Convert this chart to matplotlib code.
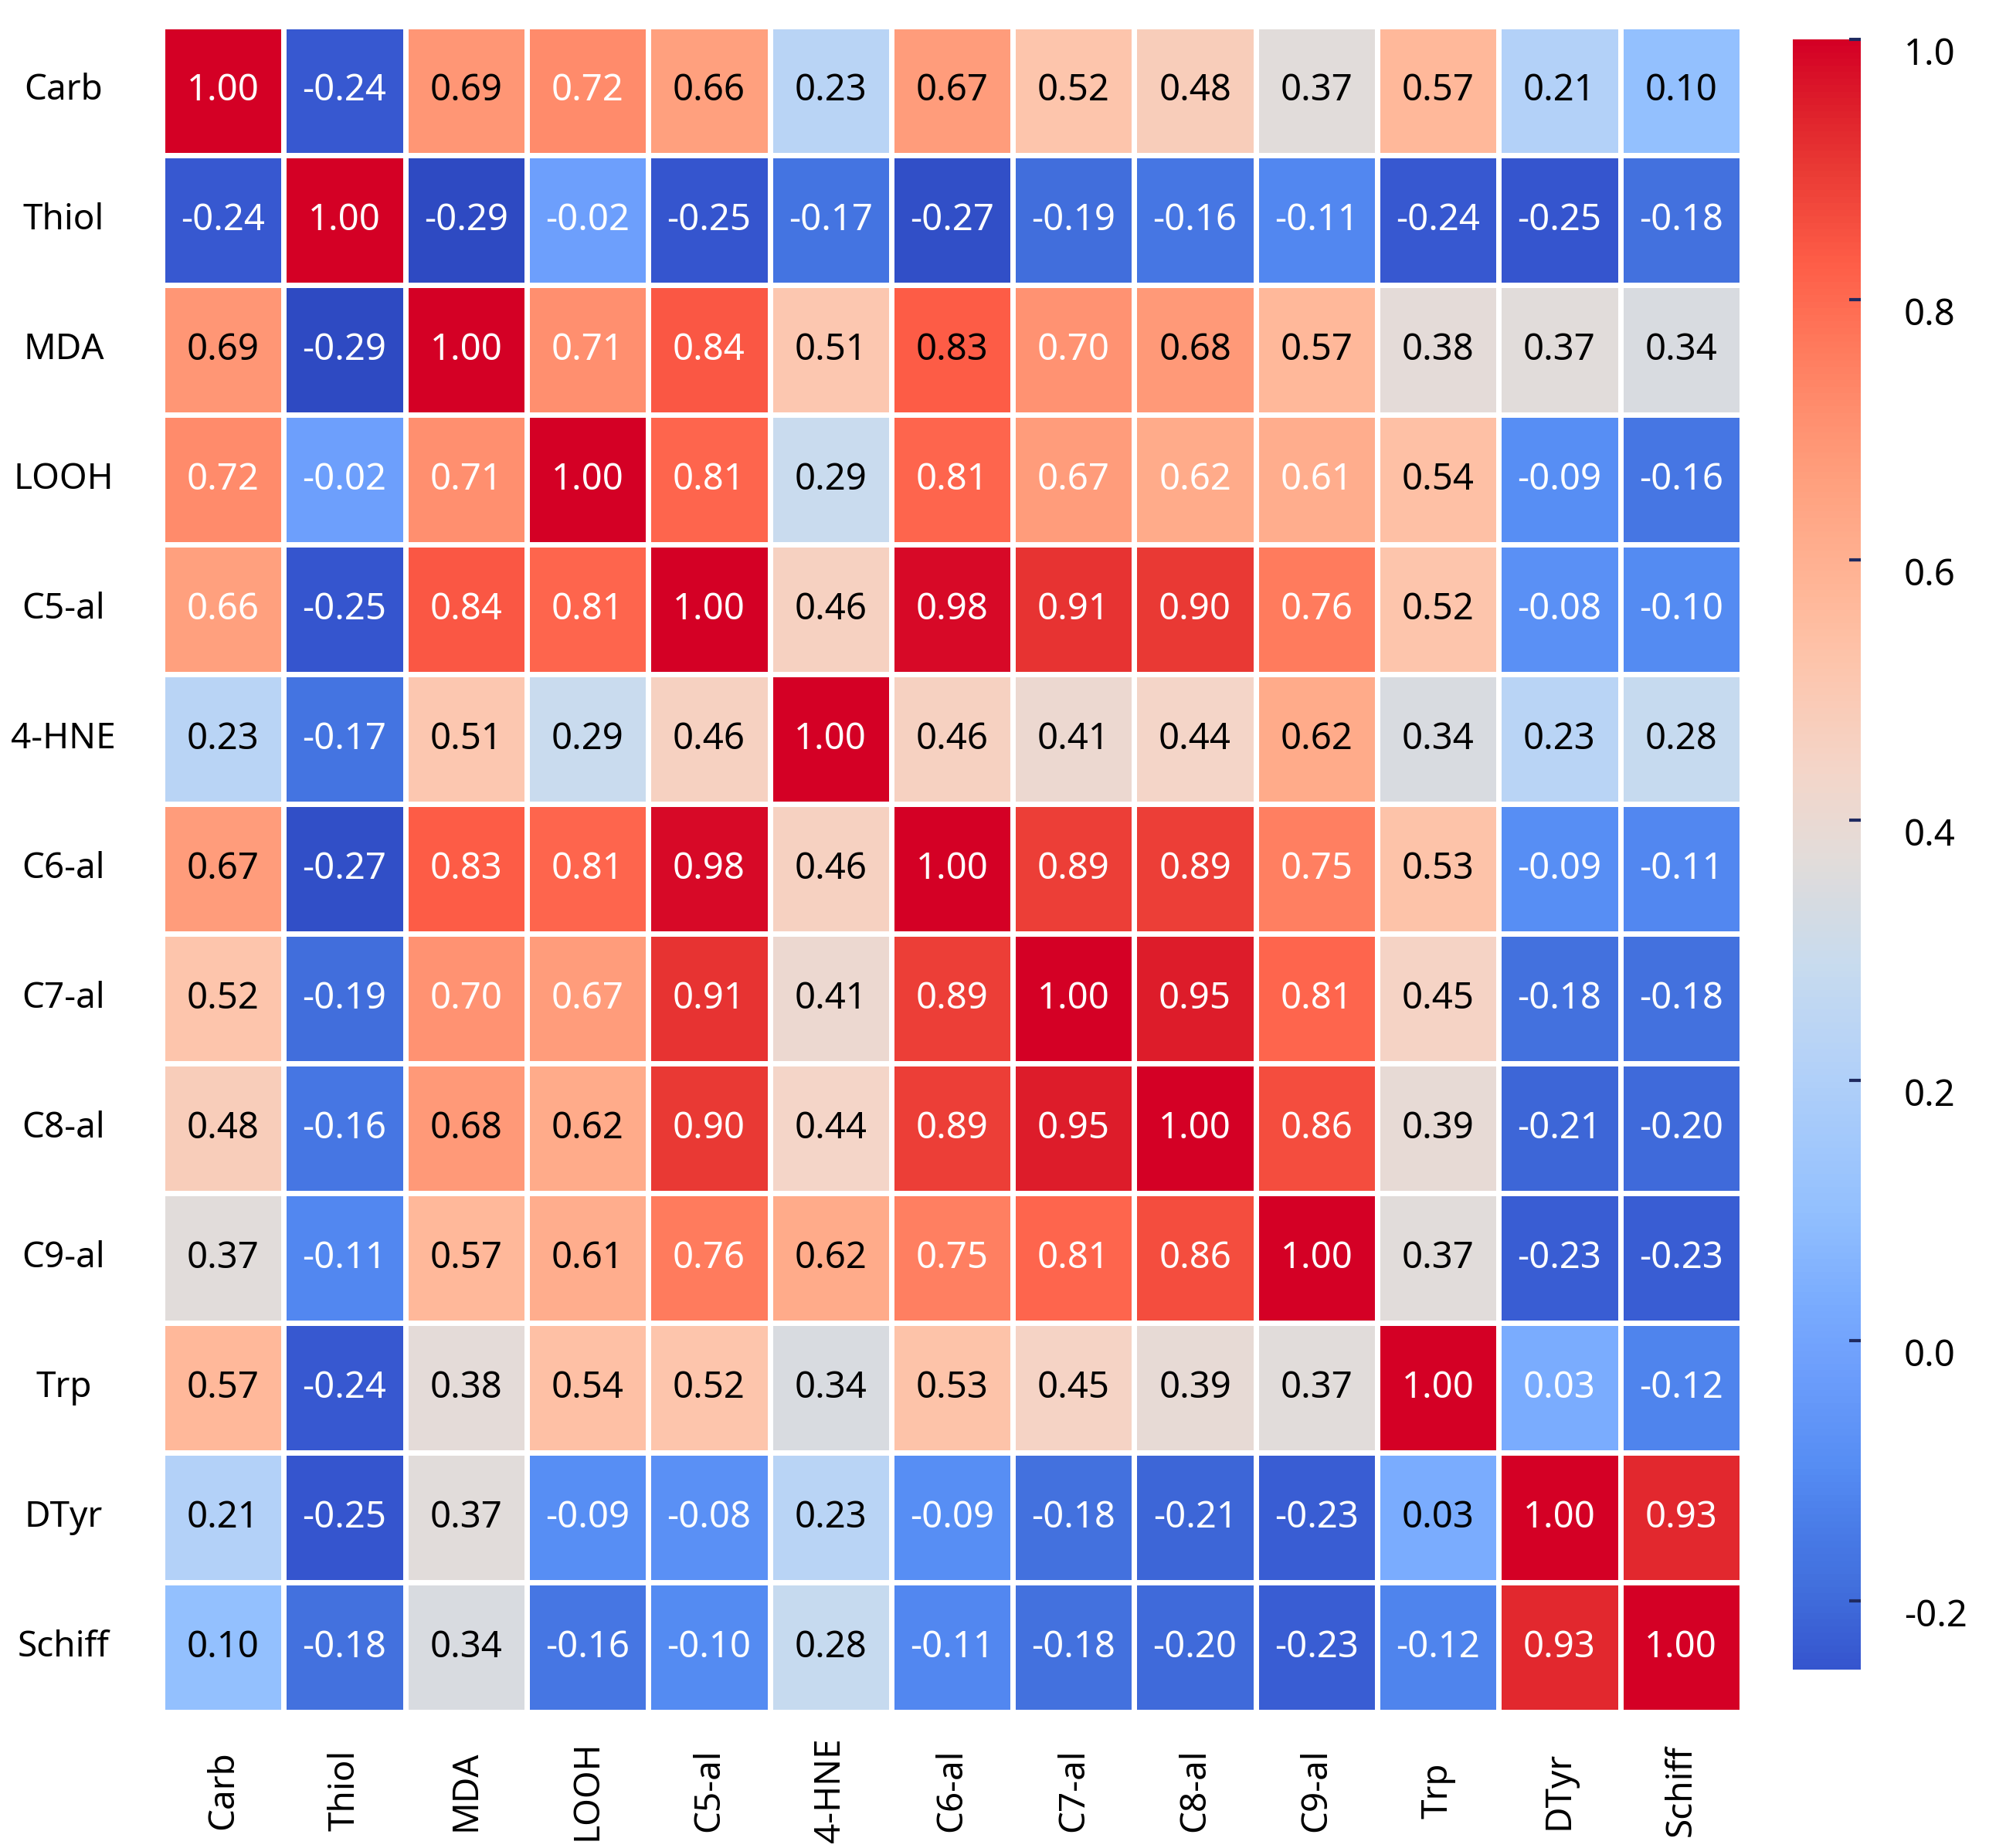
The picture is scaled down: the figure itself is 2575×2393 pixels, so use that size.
#!/usr/bin/env python3
"""
Correlation heatmap of oxidation markers (Carb, Thiol, MDA, aldehydes, ...).
"""

import numpy as np
import pandas as pd
import matplotlib
matplotlib.use('Agg')
import matplotlib.pyplot as plt
import seaborn as sns
from matplotlib.colors import LinearSegmentedColormap
from matplotlib.transforms import ScaledTranslation

# Marker names (rows and columns are the same)
markers = ['Carb', 'Thiol', 'MDA', 'LOOH', 'C5-al', '4-HNE', 'C6-al',
           'C7-al', 'C8-al', 'C9-al', 'Trp', 'DTyr', 'Schiff']

# Correlation values, one list per row
carb   = [1.00, -0.24, 0.69, 0.72, 0.66, 0.23, 0.67, 0.52, 0.48, 0.37, 0.57, 0.21, 0.10]
thiol  = [-0.24, 1.00, -0.29, -0.02, -0.25, -0.17, -0.27, -0.19, -0.16, -0.11, -0.24, -0.25, -0.18]
mda    = [0.69, -0.29, 1.00, 0.71, 0.84, 0.51, 0.83, 0.70, 0.68, 0.57, 0.38, 0.37, 0.34]
looh   = [0.72, -0.02, 0.71, 1.00, 0.81, 0.29, 0.81, 0.67, 0.62, 0.61, 0.54, -0.09, -0.16]
c5al   = [0.66, -0.25, 0.84, 0.81, 1.00, 0.46, 0.98, 0.91, 0.90, 0.76, 0.52, -0.08, -0.10]
hne    = [0.23, -0.17, 0.51, 0.29, 0.46, 1.00, 0.46, 0.41, 0.44, 0.62, 0.34, 0.23, 0.28]
c6al   = [0.67, -0.27, 0.83, 0.81, 0.98, 0.46, 1.00, 0.89, 0.89, 0.75, 0.53, -0.09, -0.11]
c7al   = [0.52, -0.19, 0.70, 0.67, 0.91, 0.41, 0.89, 1.00, 0.95, 0.81, 0.45, -0.18, -0.18]
c8al   = [0.48, -0.16, 0.68, 0.62, 0.90, 0.44, 0.89, 0.95, 1.00, 0.86, 0.39, -0.21, -0.20]
c9al   = [0.37, -0.11, 0.57, 0.61, 0.76, 0.62, 0.75, 0.81, 0.86, 1.00, 0.37, -0.23, -0.23]
trp    = [0.57, -0.24, 0.38, 0.54, 0.52, 0.34, 0.53, 0.45, 0.39, 0.37, 1.00, 0.03, -0.12]
dtyr   = [0.21, -0.25, 0.37, -0.09, -0.08, 0.23, -0.09, -0.18, -0.21, -0.23, 0.03, 1.00, 0.93]
schiff = [0.10, -0.18, 0.34, -0.16, -0.10, 0.28, -0.11, -0.18, -0.20, -0.23, -0.12, 0.93, 1.00]

rows = [carb, thiol, mda, looh, c5al, hne, c6al, c7al, c8al, c9al, trp, dtyr, schiff]
corr = pd.DataFrame(rows, index=markers, columns=markers)

# Annotation colour per cell as it appears in the chart (k = black, w = white)
text_colors = [
    'wwkwkkkkkkkkk',
    'wwwwwwwwwwwww',
    'kwwwwkkwkkkkk',
    'wwwwwkwwwwkww',
    'wwwwwkwwwwkww',
    'kwkkkwkkkkkkk',
    'kwwwwkwwwwkww',
    'kwwwwkwwwwkww',
    'kwkkwkwwwwkww',
    'kwkkwkwwwwkww',
    'kwkkkkkkkkwww',
    'kwkwwkwwwwkww',
    'kwkwwkwwwwwww',
]

# Colour anchors (value -> colour) sampled from the chart's palette
cmap_values = [-0.29, -0.25, -0.19, -0.16, -0.10, -0.02, 0.03, 0.10, 0.21, 0.29,
               0.34, 0.37, 0.44, 0.52, 0.57, 0.66, 0.72, 0.76, 0.83, 0.90, 0.95, 1.00]
cmap_colors = ['#2e4ac2', '#3656cf', '#4270dd', '#4677e4', '#558cf3', '#6e9ffc',
               '#7aacfe', '#93c0fe', '#b3d1f8', '#c8dbee', '#d7dbe0', '#e2dcda',
               '#f4d5c8', '#fdc5ac', '#ffb89a', '#ffa07e', '#ff8c6c', '#ff7c5e',
               '#fe5d47', '#ea3b35', '#de1f2b', '#d40025']

cbar_ticks = [-0.2, 0.0, 0.2, 0.4, 0.6, 0.8, 1.0]

VMIN, VMAX = -0.29, 1.0

plt.rcParams['font.family'] = ['Noto Sans', 'DejaVu Sans']
plt.rcParams['axes.unicode_minus'] = False

span = VMAX - VMIN
cmap = LinearSegmentedColormap.from_list(
    'markers', [((v - VMIN) / span, c) for v, c in zip(cmap_values, cmap_colors)])

fig = plt.figure(figsize=(25.75, 23.93), dpi=100)
ax = fig.add_axes([0.0816, 0.0735, 0.7941, 0.9125])
cax = fig.add_axes([0.9014, 0.0965, 0.0342, 0.8822])

sns.heatmap(corr, ax=ax, cbar_ax=cax, cmap=cmap, vmin=VMIN, vmax=VMAX,
            annot=True, fmt='.2f', annot_kws={'fontsize': 34},
            linewidths=5, linecolor='white', square=False)

# Recolour annotations to match the original
for k, txt in enumerate(ax.texts):
    i, j = divmod(k, len(markers))
    txt.set_color('black' if text_colors[i][j] == 'k' else 'white')

ax.tick_params(axis='both', length=0, labelsize=33)
ax.tick_params(axis='y', pad=92)
ax.tick_params(axis='x', pad=73)
for lbl in ax.get_yticklabels():
    lbl.set_rotation(0)
    lbl.set_ha('center')
for lbl in ax.get_xticklabels():
    lbl.set_rotation(90)
    lbl.set_va('center')
    lbl.set_ha('center')

# Colorbar styling
cbar = ax.collections[0].colorbar
cbar.outline.set_visible(False)
cbar.set_ticks(cbar_ticks)
cbar.set_ticklabels([f'{t:.1f}' for t in cbar_ticks])
cbar.ax.set_ylim(-0.253, 1.0)
cbar.ax.tick_params(direction='in', length=11, width=3, color='#1f2a60',
                    labelsize=34, pad=40)
# labels sit slightly below their ticks in the original
shift = ScaledTranslation(0, -0.15, fig.dpi_scale_trans)
for lbl in cbar.ax.get_yticklabels():
    lbl.set_transform(lbl.get_transform() + shift)

plt.savefig('out.png', dpi=100, facecolor='white')
plt.close()
